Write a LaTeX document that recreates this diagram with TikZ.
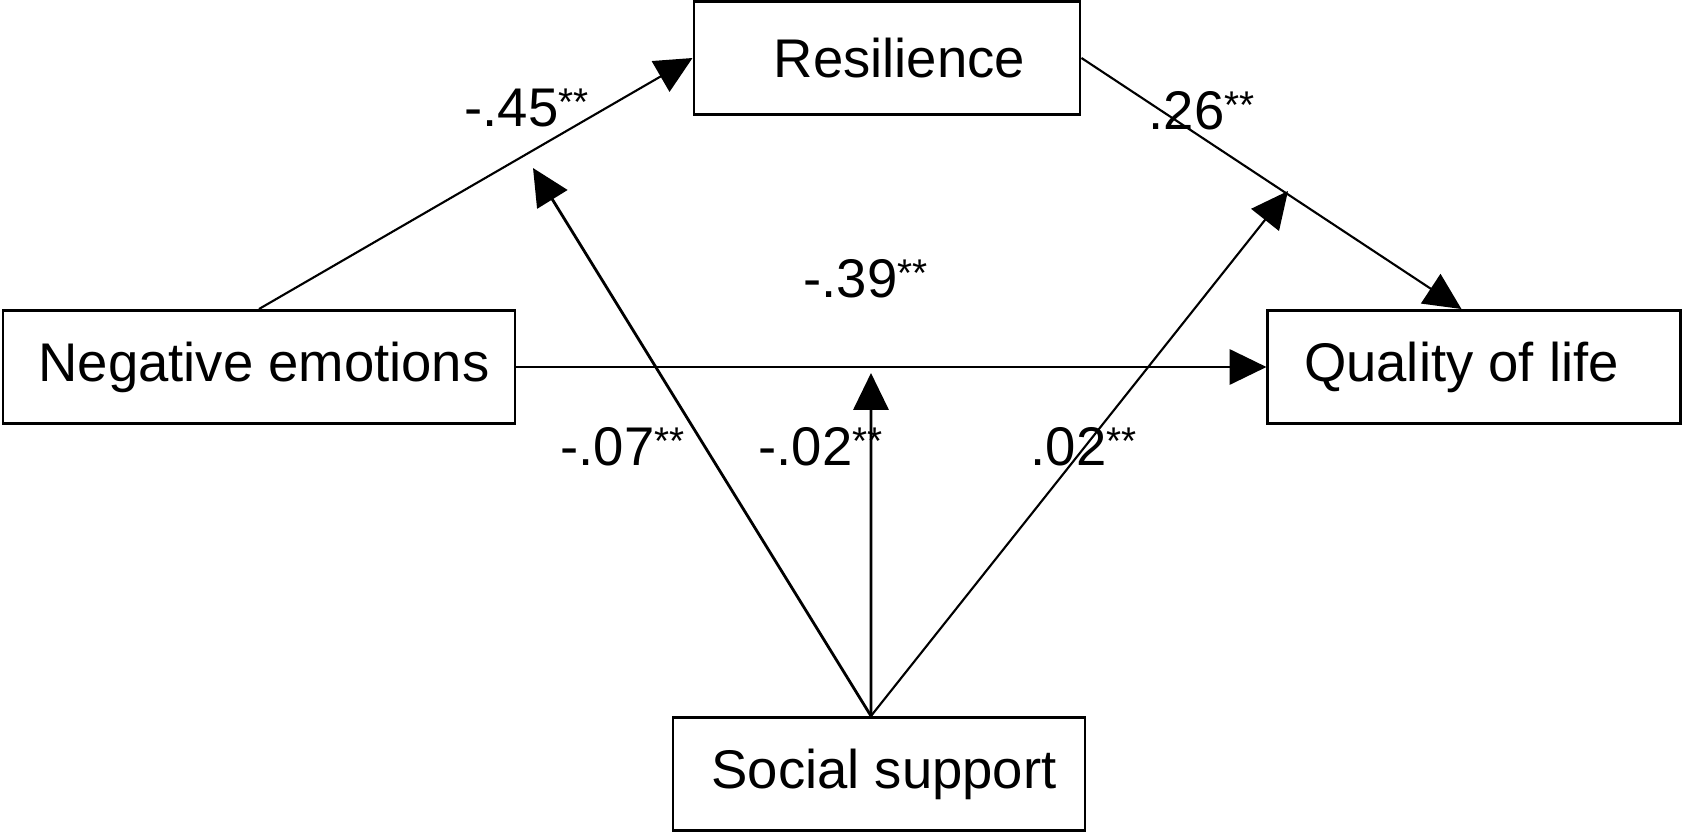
\documentclass[tikz,border=0pt]{standalone}
\usepackage{fontspec}
\setmainfont{Liberation Sans}
\usetikzlibrary{arrows.meta,positioning}

\newcommand{\stars}{\raisebox{3pt}{\fontsize{11}{11}\selectfont **}}

\begin{document}
\begin{tikzpicture}[
    x=0.1mm, y=-0.1mm,
    font=\fontsize{15.5}{18}\selectfont,
    var/.style={rectangle, draw, line width=0.85pt, inner sep=0pt, minimum height=11.3mm},
    coef/.style={anchor=base west, inner sep=0pt},
    arrow/.style={-{Triangle[length=10.5pt, width=10pt]}, line width=0.6pt},
    thick arrow/.style={arrow, line width=0.8pt}
]
    \useasboundingbox (0,0) rectangle (1683,833);

    % Variables
    \node[var, minimum width=51.2mm] (neg) at (259,367) {\hspace{1mm}Negative emotions};
    \node[var, minimum width=38.6mm] (res) at (887,58) {\hspace{2.5mm}Resilience};
    \node[var, minimum width=41.3mm, right=75mm of neg] (qol) {Quality of life\kern2.6mm};
    \node[var, minimum width=41.2mm] (soc) at (879,774) {\hspace{1mm}Social support};

    % Moderation points
    \coordinate (src) at ([xshift=-0.8mm]soc.north);
    \coordinate (m1) at (533,168);
    \coordinate (m2) at (871,373);
    \coordinate (m3) at (1288,191);

    % Paths
    \draw[arrow] (neg.north) -- (res.west);
    \draw[arrow] (res.east) -- ([xshift=-1.3mm]qol.north);
    \draw[thick arrow] (neg.east) -- (qol.west);
    \draw[thick arrow] (src) -- (m1);
    \draw[thick arrow] (src) -- (m2);
    \draw[arrow] (src) -- (m3);

    % Coefficients
    \node[coef] (c1) at (464,126) {-.45\stars};
    \node[coef] (c2) at (1148,129) {.26\stars};
    \node[coef] (c3) at (803,297) {-.39\stars};
    \node[coef] (c4) at (560,465) {-.07\stars};
    \node[coef] (c5) at (758,465) {-.02\stars};
    \node[coef] (c6) at (1030,465) {.02\stars};
\end{tikzpicture}
\end{document}
